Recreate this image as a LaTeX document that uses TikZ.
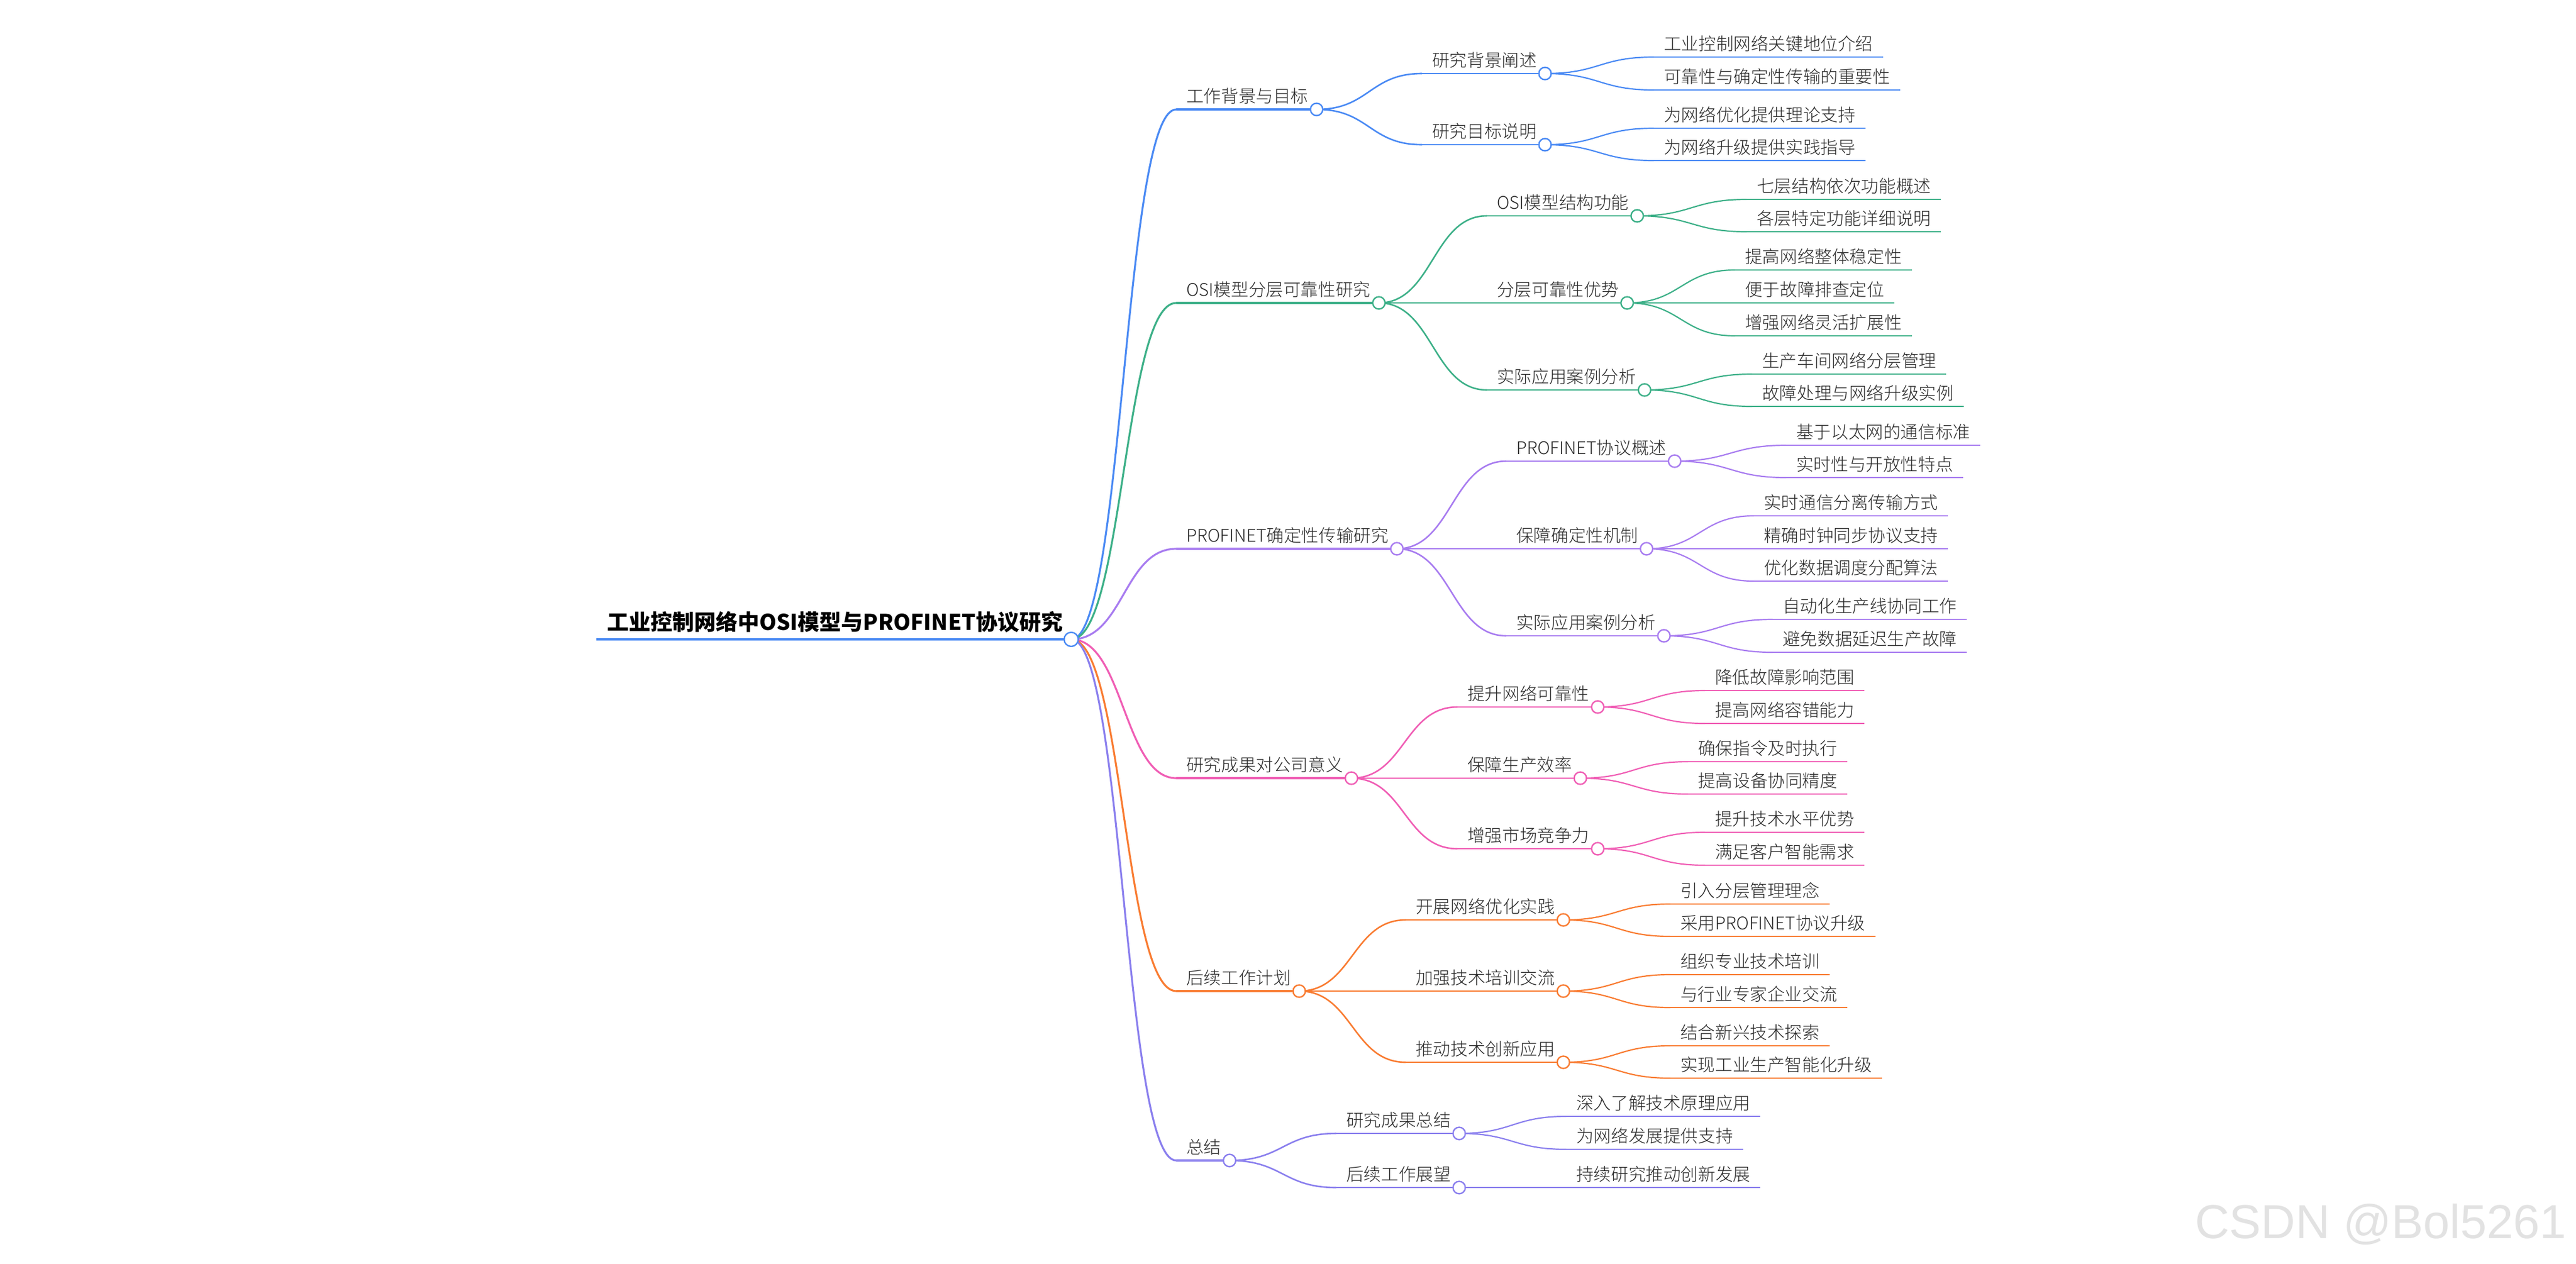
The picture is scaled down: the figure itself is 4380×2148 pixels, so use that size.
\documentclass[tikz,border=0pt]{standalone}
\usepackage{fontspec}
\usetikzlibrary{calc}
\pgfdeclarelayer{fg}
\pgfsetlayers{main,fg}
\IfFontExistsTF{Noto Sans CJK SC Light}
  {\newfontfamily\cjk{Noto Sans CJK SC Light}}
  {\IfFontExistsTF{Noto Sans CJK SC DemiLight}
     {\newfontfamily\cjk{Noto Sans CJK SC DemiLight}}
     {\newfontfamily\cjk{Noto Sans CJK SC}}}
\newfontfamily\cjkr{Noto Sans CJK SC}
\newfontfamily\wmfont{Liberation Sans}
\definecolor{cblue}{HTML}{4A8AF4}
\definecolor{cgreen}{HTML}{3DB088}
\definecolor{cpurple}{HTML}{A87CF0}
\definecolor{cpink}{HTML}{F05EB5}
\definecolor{corange}{HTML}{F97C32}
\definecolor{cviolet}{HTML}{8A7FEE}
\definecolor{textc}{HTML}{2A2A2A}
\definecolor{wmc}{HTML}{E2E2E2}
\tikzset{
  lbl/.style={font={\cjk\fontsize{29.6}{34}\selectfont}, text=textc, inner xsep=17pt, inner ysep=0pt, text height=26pt, text depth=11pt, anchor=south west},
  rootlbl/.style={font={\cjkr\bfseries\fontsize{37}{42}\selectfont}, text=black, inner xsep=18pt, inner ysep=0pt, text height=33pt, text depth=15pt, anchor=south west},
  edge0/.style={draw=#1, line width=4.5pt},
  edge1/.style={draw=#1, line width=3.2pt},
  edge2/.style={draw=#1, line width=2.6pt},
  edge3/.style={draw=#1, line width=2.2pt},
  knob/.style={circle, draw=#1, fill=white, line width=2.4pt, minimum size=21pt, inner sep=0pt},
}
\newcommand\mmconn[3]{%
  \draw[#3] let \p1=(#1), \p2=(#2) in (\p1) .. controls ({(\x1+\x2)/2},\y1) and ({(\x1+\x2)/2},\y2) .. (\p2);%
}
\newcommand\mminner[7]{% name parent x y color edgestyle text
  \node[lbl] (#1) at (#3,-#4) {#7};
  \begin{pgfonlayer}{fg}
    \node[knob=#5] (#1k) at ([xshift=-3pt]#1.south east) {};
  \end{pgfonlayer}
  \mmconn{#2k}{#1.south west}{#6=#5}
  \draw[#6=#5] (#1.south west) -- (#1k.center);
}
\newcommand\mmleaf[6]{% name parent x y color text
  \node[lbl] (#1) at (#3,-#4) {#6};
  \mmconn{#2k}{#1.south west}{edge3=#5}
  \draw[edge3=#5] (#1.south west) -- (#1.south east);
}
\begin{document}
\begin{tikzpicture}[x=1pt,y=1pt]
\useasboundingbox (0,0) rectangle (4380,-2148);
\fill[white] (0,0) rectangle (4380,-2148);

% root
\node[rootlbl] (root) at (1014,-1087) {工业控制网络中OSI模型与PROFINET协议研究};
\begin{pgfonlayer}{fg}
  \node[knob=cblue, minimum size=24pt] (rootk) at ([xshift=-4pt]root.south east) {};
\end{pgfonlayer}
\draw[edge0=cblue] (root.south west) -- (rootk.center);

% branch 1
\mminner{a}{root}{2000}{186}{cblue}{edge1}{工作背景与目标}
\mminner{a1}{a}{2418}{125}{cblue}{edge2}{研究背景阐述}
\mmleaf{a11}{a1}{2812}{97}{cblue}{工业控制网络关键地位介绍}
\mmleaf{a12}{a1}{2812}{153}{cblue}{可靠性与确定性传输的重要性}
\mminner{a2}{a}{2418}{246}{cblue}{edge2}{研究目标说明}
\mmleaf{a21}{a2}{2812}{218}{cblue}{为网络优化提供理论支持}
\mmleaf{a22}{a2}{2812}{273}{cblue}{为网络升级提供实践指导}

% branch 2
\mminner{b}{root}{2000}{515}{cgreen}{edge1}{OSI模型分层可靠性研究}
\mminner{b1}{b}{2528}{367}{cgreen}{edge2}{OSI模型结构功能}
\mmleaf{b11}{b1}{2970}{339}{cgreen}{七层结构依次功能概述}
\mmleaf{b12}{b1}{2970}{394}{cgreen}{各层特定功能详细说明}
\mminner{b2}{b}{2528}{515}{cgreen}{edge2}{分层可靠性优势}
\mmleaf{b21}{b2}{2950}{459}{cgreen}{提高网络整体稳定性}
\mmleaf{b22}{b2}{2950}{515}{cgreen}{便于故障排查定位}
\mmleaf{b23}{b2}{2950}{571}{cgreen}{增强网络灵活扩展性}
\mminner{b3}{b}{2528}{663}{cgreen}{edge2}{实际应用案例分析}
\mmleaf{b31}{b3}{2979}{636}{cgreen}{生产车间网络分层管理}
\mmleaf{b32}{b3}{2979}{691}{cgreen}{故障处理与网络升级实例}

% branch 3
\mminner{c}{root}{2000}{933}{cpurple}{edge1}{PROFINET确定性传输研究}
\mminner{c1}{c}{2561}{784}{cpurple}{edge2}{PROFINET协议概述}
\mmleaf{c11}{c1}{3037}{757}{cpurple}{基于以太网的通信标准}
\mmleaf{c12}{c1}{3037}{812}{cpurple}{实时性与开放性特点}
\mminner{c2}{c}{2561}{933}{cpurple}{edge2}{保障确定性机制}
\mmleaf{c21}{c2}{2982}{877}{cpurple}{实时通信分离传输方式}
\mmleaf{c22}{c2}{2982}{933}{cpurple}{精确时钟同步协议支持}
\mmleaf{c23}{c2}{2982}{988}{cpurple}{优化数据调度分配算法}
\mminner{c3}{c}{2561}{1081}{cpurple}{edge2}{实际应用案例分析}
\mmleaf{c31}{c3}{3014}{1053}{cpurple}{自动化生产线协同工作}
\mmleaf{c32}{c3}{3014}{1109}{cpurple}{避免数据延迟生产故障}

% branch 4
\mminner{d}{root}{2000}{1323}{cpink}{edge1}{研究成果对公司意义}
\mminner{d1}{d}{2478}{1202}{cpink}{edge2}{提升网络可靠性}
\mmleaf{d11}{d1}{2899}{1174}{cpink}{降低故障影响范围}
\mmleaf{d12}{d1}{2899}{1230}{cpink}{提高网络容错能力}
\mminner{d2}{d}{2478}{1323}{cpink}{edge2}{保障生产效率}
\mmleaf{d21}{d2}{2870}{1295}{cpink}{确保指令及时执行}
\mmleaf{d22}{d2}{2870}{1350}{cpink}{提高设备协同精度}
\mminner{d3}{d}{2478}{1443}{cpink}{edge2}{增强市场竞争力}
\mmleaf{d31}{d3}{2899}{1415}{cpink}{提升技术水平优势}
\mmleaf{d32}{d3}{2899}{1471}{cpink}{满足客户智能需求}

% branch 5
\mminner{e}{root}{2000}{1685}{corange}{edge1}{后续工作计划}
\mminner{e1}{e}{2390}{1564}{corange}{edge2}{开展网络优化实践}
\mmleaf{e11}{e1}{2840}{1537}{corange}{引入分层管理理念}
\mmleaf{e12}{e1}{2840}{1592}{corange}{采用PROFINET协议升级}
\mminner{e2}{e}{2390}{1685}{corange}{edge2}{加强技术培训交流}
\mmleaf{e21}{e2}{2840}{1657}{corange}{组织专业技术培训}
\mmleaf{e22}{e2}{2840}{1713}{corange}{与行业专家企业交流}
\mminner{e3}{e}{2390}{1806}{corange}{edge2}{推动技术创新应用}
\mmleaf{e31}{e3}{2840}{1778}{corange}{结合新兴技术探索}
\mmleaf{e32}{e3}{2840}{1833}{corange}{实现工业生产智能化升级}

% branch 6
\mminner{f}{root}{2000}{1973}{cviolet}{edge1}{总结}
\mminner{f1}{f}{2272}{1927}{cviolet}{edge2}{研究成果总结}
\mmleaf{f11}{f1}{2663}{1898}{cviolet}{深入了解技术原理应用}
\mmleaf{f12}{f1}{2663}{1954}{cviolet}{为网络发展提供支持}
\mminner{f2}{f}{2272}{2019}{cviolet}{edge2}{后续工作展望}
\mmleaf{f21}{f2}{2663}{2019}{cviolet}{持续研究推动创新发展}

% watermark
\node[font={\wmfont\fontsize{81}{90}\selectfont}, text=wmc, anchor=base west, inner sep=0pt] (wm) at (3732,-2105) {CSDN @Bol5261};
\end{tikzpicture}
\end{document}
